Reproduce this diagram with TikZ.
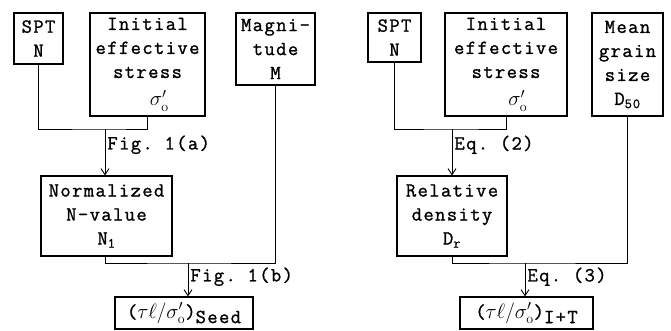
\documentclass[tikz,border=0pt]{standalone}
\usepackage{fontspec}
\setmonofont{Latin Modern Mono}[LetterSpace=7, FakeBold=1.2]
\usetikzlibrary{arrows.meta}

\tikzset{
    box/.style={draw, line width=1.1pt, inner sep=0pt, align=center},
    link/.style={line width=0.9pt},
    flow/.style={link, -{Straight Barb[length=6pt,width=8pt]}},
    lbl/.style={inner sep=2pt, right}
}

\begin{document}
\begin{tikzpicture}[x=1pt, y=-1pt, font=\ttfamily\fontsize{20}{24}\selectfont]
\useasboundingbox (0,0) rectangle (671,331);

% Left chart: Seed method
\node[box, minimum width=49pt, minimum height=51pt] (sptA) at (38.5,38.5) {SPT\\N};
\node[box, minimum width=115pt, minimum height=103pt] (initA) at (147.5,64.5)
    {Initial\\effective\\stress\\[4pt]\ \ $\sigma'_{\mathrm{o}}$};
\node[box, minimum width=79pt, minimum height=72pt] (magA) at (275.5,49) {Magni-\\tude\\M};
\node[box, minimum width=131pt, minimum height=80pt] (normA) at (106.5,216)
    {Normalized\\N-value\\N\textsubscript{1}};
\node[box, minimum width=138pt, minimum height=32pt] (seedA) at (184,313)
    {($\tau\ell/\sigma'_{\mathrm{o}}$)\raisebox{-5pt}{Seed}};
\coordinate (jA) at (105,129);
\coordinate (kA) at (188,263);

\draw[link] (sptA.south) |- (jA) -| (initA.south);
\draw[flow] (jA) -- (jA |- normA.north) node[lbl, pos=0.34] (figA) {Fig. 1(a)};
\draw[link] (normA.south -| jA) |- (kA) -| (magA.south);
\draw[flow] (kA) -- (kA |- seedA.north) node[lbl, pos=0.41] (figB) {Fig. 1(b)};

% Right chart: I+T method
\node[box, minimum width=53pt, minimum height=49pt] (sptB) at (394.5,37.5) {SPT\\N};
\node[box, minimum width=122pt, minimum height=103pt] (initB) at (506,64.5)
    {Initial\\effective\\stress\\[4pt]\ \ $\sigma'_{\mathrm{o}}$};
\node[box, minimum width=71pt, minimum height=103pt] (meanB) at (627.5,64.5)
    {Mean\\grain\\size\\D\textsubscript{50}};
\node[box, minimum width=110pt, minimum height=80pt] (relB) at (452,216)
    {Relative\\density\\D\textsubscript{r}};
\node[box, minimum width=133pt, minimum height=32pt] (itB) at (526.5,313)
    {($\tau\ell/\sigma'_{\mathrm{o}}$)\raisebox{-5pt}{I+T}};
\coordinate (jB) at (452,129);
\coordinate (kB) at (525,263);

\draw[link] (sptB.south) |- (jB) -| (initB.south);
\draw[flow] (jB) -- (jB |- relB.north) node[lbl, pos=0.34] (eqA) {Eq. (2)};
\draw[link] (relB.south) |- (kB) -| (meanB.south);
\draw[flow] (kB) -- (kB |- itB.north) node[lbl, pos=0.41] (eqB) {Eq. (3)};

\end{tikzpicture}
\end{document}
